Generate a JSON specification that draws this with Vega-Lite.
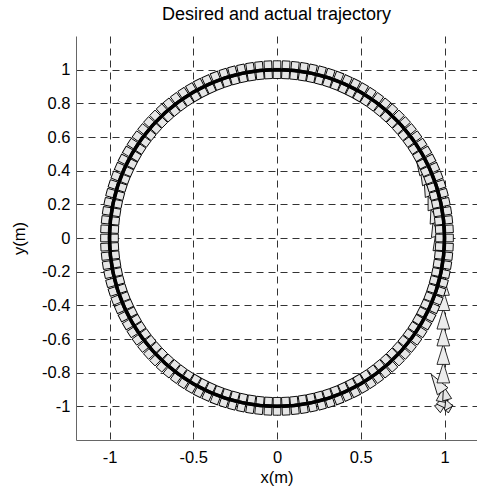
{
"$schema": "https://vega.github.io/schema/vega-lite/v6.json",
"width": 401, "height": 404,
"autosize": {"type": "none"},
"padding": {"left": 76, "top": 36, "right": 0, "bottom": 53},
"background": "white",
"title": {"text": "Desired and actual trajectory", "font": "Liberation Sans", "fontSize": 18, "fontWeight": "normal", "color": "black", "anchor": "middle", "frame": "group", "offset": 12},
"config": {
  "view": {"stroke": null},
  "axis": {"domainColor": "#666666", "domainWidth": 1, "ticks": false, "grid": true, "gridColor": "#333333", "gridDash": [7, 5], "gridWidth": 1, "gridOpacity": 1,
    "labelFont": "Liberation Sans", "labelFontSize": 16.5, "labelColor": "black", "titleFont": "Liberation Sans", "titleFontSize": 16.5, "titleFontWeight": "normal", "titleColor": "black"}
},
"datasets": {
"circle": [
{"o":0,"x":1,"y":0},{"o":6,"x":0.9945,"y":0.1045},{"o":12,"x":0.9781,"y":0.2079},{"o":18,"x":0.9511,"y":0.309},{"o":24,"x":0.9135,"y":0.4067},{"o":30,"x":0.866,"y":0.5},{"o":36,"x":0.809,"y":0.5878},{"o":42,"x":0.7431,"y":0.6691},{"o":48,"x":0.6691,"y":0.7431},{"o":54,"x":0.5878,"y":0.809},{"o":60,"x":0.5,"y":0.866},{"o":66,"x":0.4067,"y":0.9135},{"o":72,"x":0.309,"y":0.9511},{"o":78,"x":0.2079,"y":0.9781},{"o":84,"x":0.1045,"y":0.9945},
{"o":90,"x":0,"y":1},{"o":96,"x":-0.1045,"y":0.9945},{"o":102,"x":-0.2079,"y":0.9781},{"o":108,"x":-0.309,"y":0.9511},{"o":114,"x":-0.4067,"y":0.9135},{"o":120,"x":-0.5,"y":0.866},{"o":126,"x":-0.5878,"y":0.809},{"o":132,"x":-0.6691,"y":0.7431},{"o":138,"x":-0.7431,"y":0.6691},{"o":144,"x":-0.809,"y":0.5878},{"o":150,"x":-0.866,"y":0.5},{"o":156,"x":-0.9135,"y":0.4067},{"o":162,"x":-0.9511,"y":0.309},{"o":168,"x":-0.9781,"y":0.2079},{"o":174,"x":-0.9945,"y":0.1045},
{"o":180,"x":-1,"y":0},{"o":186,"x":-0.9945,"y":-0.1045},{"o":192,"x":-0.9781,"y":-0.2079},{"o":198,"x":-0.9511,"y":-0.309},{"o":204,"x":-0.9135,"y":-0.4067},{"o":210,"x":-0.866,"y":-0.5},{"o":216,"x":-0.809,"y":-0.5878},{"o":222,"x":-0.7431,"y":-0.6691},{"o":228,"x":-0.6691,"y":-0.7431},{"o":234,"x":-0.5878,"y":-0.809},{"o":240,"x":-0.5,"y":-0.866},{"o":246,"x":-0.4067,"y":-0.9135},{"o":252,"x":-0.309,"y":-0.9511},{"o":258,"x":-0.2079,"y":-0.9781},{"o":264,"x":-0.1045,"y":-0.9945},
{"o":270,"x":0,"y":-1},{"o":276,"x":0.1045,"y":-0.9945},{"o":282,"x":0.2079,"y":-0.9781},{"o":288,"x":0.309,"y":-0.9511},{"o":294,"x":0.4067,"y":-0.9135},{"o":300,"x":0.5,"y":-0.866},{"o":306,"x":0.5878,"y":-0.809},{"o":312,"x":0.6691,"y":-0.7431},{"o":318,"x":0.7431,"y":-0.6691},{"o":324,"x":0.809,"y":-0.5878},{"o":330,"x":0.866,"y":-0.5},{"o":336,"x":0.9135,"y":-0.4067},{"o":342,"x":0.9511,"y":-0.309},{"o":348,"x":0.9781,"y":-0.2079},{"o":354,"x":0.9945,"y":-0.1045},{"o":360,"x":1,"y":0}
],
"sq": [
{"x":1.03,"y":0,"a":0},{"x":1.029,"y":0.054,"a":3},{"x":1.024,"y":0.108,"a":6},{"x":1.017,"y":0.161,"a":9},{"x":1.007,"y":0.214,"a":12},{"x":0.995,"y":0.267,"a":15},{"x":0.98,"y":0.318,"a":18},{"x":0.962,"y":0.369,"a":21},{"x":0.941,"y":0.419,"a":24},{"x":0.918,"y":0.468,"a":27},{"x":0.892,"y":0.515,"a":30},{"x":0.864,"y":0.561,"a":33},{"x":0.833,"y":0.605,"a":36},{"x":0.8,"y":0.648,"a":39},{"x":0.765,"y":0.689,"a":42},{"x":0.728,"y":0.728,"a":45},{"x":0.689,"y":0.765,"a":48},{"x":0.648,"y":0.8,"a":51},{"x":0.605,"y":0.833,"a":54},{"x":0.561,"y":0.864,"a":57},{"x":0.515,"y":0.892,"a":60},{"x":0.468,"y":0.918,"a":63},{"x":0.419,"y":0.941,"a":66},{"x":0.369,"y":0.962,"a":69},{"x":0.318,"y":0.98,"a":72},{"x":0.267,"y":0.995,"a":75},{"x":0.214,"y":1.007,"a":78},{"x":0.161,"y":1.017,"a":81},{"x":0.108,"y":1.024,"a":84},{"x":0.054,"y":1.029,"a":87},
{"x":0,"y":1.03,"a":90},{"x":-0.054,"y":1.029,"a":93},{"x":-0.108,"y":1.024,"a":96},{"x":-0.161,"y":1.017,"a":99},{"x":-0.214,"y":1.007,"a":102},{"x":-0.267,"y":0.995,"a":105},{"x":-0.318,"y":0.98,"a":108},{"x":-0.369,"y":0.962,"a":111},{"x":-0.419,"y":0.941,"a":114},{"x":-0.468,"y":0.918,"a":117},{"x":-0.515,"y":0.892,"a":120},{"x":-0.561,"y":0.864,"a":123},{"x":-0.605,"y":0.833,"a":126},{"x":-0.648,"y":0.8,"a":129},{"x":-0.689,"y":0.765,"a":132},{"x":-0.728,"y":0.728,"a":135},{"x":-0.765,"y":0.689,"a":138},{"x":-0.8,"y":0.648,"a":141},{"x":-0.833,"y":0.605,"a":144},{"x":-0.864,"y":0.561,"a":147},{"x":-0.892,"y":0.515,"a":150},{"x":-0.918,"y":0.468,"a":153},{"x":-0.941,"y":0.419,"a":156},{"x":-0.962,"y":0.369,"a":159},{"x":-0.98,"y":0.318,"a":162},{"x":-0.995,"y":0.267,"a":165},{"x":-1.007,"y":0.214,"a":168},{"x":-1.017,"y":0.161,"a":171},{"x":-1.024,"y":0.108,"a":174},{"x":-1.029,"y":0.054,"a":177},
{"x":-1.03,"y":0,"a":180},{"x":-1.029,"y":-0.054,"a":183},{"x":-1.024,"y":-0.108,"a":186},{"x":-1.017,"y":-0.161,"a":189},{"x":-1.007,"y":-0.214,"a":192},{"x":-0.995,"y":-0.267,"a":195},{"x":-0.98,"y":-0.318,"a":198},{"x":-0.962,"y":-0.369,"a":201},{"x":-0.941,"y":-0.419,"a":204},{"x":-0.918,"y":-0.468,"a":207},{"x":-0.892,"y":-0.515,"a":210},{"x":-0.864,"y":-0.561,"a":213},{"x":-0.833,"y":-0.605,"a":216},{"x":-0.8,"y":-0.648,"a":219},{"x":-0.765,"y":-0.689,"a":222},{"x":-0.728,"y":-0.728,"a":225},{"x":-0.689,"y":-0.765,"a":228},{"x":-0.648,"y":-0.8,"a":231},{"x":-0.605,"y":-0.833,"a":234},{"x":-0.561,"y":-0.864,"a":237},{"x":-0.515,"y":-0.892,"a":240},{"x":-0.468,"y":-0.918,"a":243},{"x":-0.419,"y":-0.941,"a":246},{"x":-0.369,"y":-0.962,"a":249},{"x":-0.318,"y":-0.98,"a":252},{"x":-0.267,"y":-0.995,"a":255},{"x":-0.214,"y":-1.007,"a":258},{"x":-0.161,"y":-1.017,"a":261},{"x":-0.108,"y":-1.024,"a":264},{"x":-0.054,"y":-1.029,"a":267},
{"x":0,"y":-1.03,"a":270},{"x":0.054,"y":-1.029,"a":273},{"x":0.108,"y":-1.024,"a":276},{"x":0.161,"y":-1.017,"a":279},{"x":0.214,"y":-1.007,"a":282},{"x":0.267,"y":-0.995,"a":285},{"x":0.318,"y":-0.98,"a":288},{"x":0.369,"y":-0.962,"a":291},{"x":0.419,"y":-0.941,"a":294},{"x":0.468,"y":-0.918,"a":297},{"x":0.515,"y":-0.892,"a":300},{"x":0.561,"y":-0.864,"a":303},{"x":0.605,"y":-0.833,"a":306},{"x":0.648,"y":-0.8,"a":309},{"x":0.689,"y":-0.765,"a":312},{"x":0.728,"y":-0.728,"a":315},{"x":0.765,"y":-0.689,"a":318},{"x":0.8,"y":-0.648,"a":321},{"x":0.833,"y":-0.605,"a":324},{"x":0.864,"y":-0.561,"a":327},{"x":0.892,"y":-0.515,"a":330},{"x":0.918,"y":-0.468,"a":333},{"x":0.941,"y":-0.419,"a":336},{"x":0.962,"y":-0.369,"a":339},{"x":0.98,"y":-0.318,"a":342},{"x":0.995,"y":-0.267,"a":345},{"x":1.007,"y":-0.214,"a":348},{"x":1.017,"y":-0.161,"a":351},{"x":1.024,"y":-0.108,"a":354},{"x":1.029,"y":-0.054,"a":357},
{"x":0.97,"y":0,"a":0},{"x":0.969,"y":0.051,"a":3},{"x":0.965,"y":0.101,"a":6},{"x":0.958,"y":0.152,"a":9},{"x":0.949,"y":0.202,"a":12},{"x":0.937,"y":0.251,"a":15},{"x":0.923,"y":0.3,"a":18},{"x":0.906,"y":0.348,"a":21},{"x":0.886,"y":0.394,"a":24},{"x":0.864,"y":0.44,"a":27},{"x":0.84,"y":0.485,"a":30},{"x":0.814,"y":0.528,"a":33},{"x":0.785,"y":0.57,"a":36},{"x":0.754,"y":0.61,"a":39},{"x":0.721,"y":0.649,"a":42},{"x":0.686,"y":0.686,"a":45},{"x":0.649,"y":0.721,"a":48},{"x":0.61,"y":0.754,"a":51},{"x":0.57,"y":0.785,"a":54},{"x":0.528,"y":0.814,"a":57},{"x":0.485,"y":0.84,"a":60},{"x":0.44,"y":0.864,"a":63},{"x":0.394,"y":0.886,"a":66},{"x":0.348,"y":0.906,"a":69},{"x":0.3,"y":0.923,"a":72},{"x":0.251,"y":0.937,"a":75},{"x":0.202,"y":0.949,"a":78},{"x":0.152,"y":0.958,"a":81},{"x":0.101,"y":0.965,"a":84},{"x":0.051,"y":0.969,"a":87},
{"x":0,"y":0.97,"a":90},{"x":-0.051,"y":0.969,"a":93},{"x":-0.101,"y":0.965,"a":96},{"x":-0.152,"y":0.958,"a":99},{"x":-0.202,"y":0.949,"a":102},{"x":-0.251,"y":0.937,"a":105},{"x":-0.3,"y":0.923,"a":108},{"x":-0.348,"y":0.906,"a":111},{"x":-0.394,"y":0.886,"a":114},{"x":-0.44,"y":0.864,"a":117},{"x":-0.485,"y":0.84,"a":120},{"x":-0.528,"y":0.814,"a":123},{"x":-0.57,"y":0.785,"a":126},{"x":-0.61,"y":0.754,"a":129},{"x":-0.649,"y":0.721,"a":132},{"x":-0.686,"y":0.686,"a":135},{"x":-0.721,"y":0.649,"a":138},{"x":-0.754,"y":0.61,"a":141},{"x":-0.785,"y":0.57,"a":144},{"x":-0.814,"y":0.528,"a":147},{"x":-0.84,"y":0.485,"a":150},{"x":-0.864,"y":0.44,"a":153},{"x":-0.886,"y":0.394,"a":156},{"x":-0.906,"y":0.348,"a":159},{"x":-0.923,"y":0.3,"a":162},{"x":-0.937,"y":0.251,"a":165},{"x":-0.949,"y":0.202,"a":168},{"x":-0.958,"y":0.152,"a":171},{"x":-0.965,"y":0.101,"a":174},{"x":-0.969,"y":0.051,"a":177},
{"x":-0.97,"y":0,"a":180},{"x":-0.969,"y":-0.051,"a":183},{"x":-0.965,"y":-0.101,"a":186},{"x":-0.958,"y":-0.152,"a":189},{"x":-0.949,"y":-0.202,"a":192},{"x":-0.937,"y":-0.251,"a":195},{"x":-0.923,"y":-0.3,"a":198},{"x":-0.906,"y":-0.348,"a":201},{"x":-0.886,"y":-0.394,"a":204},{"x":-0.864,"y":-0.44,"a":207},{"x":-0.84,"y":-0.485,"a":210},{"x":-0.814,"y":-0.528,"a":213},{"x":-0.785,"y":-0.57,"a":216},{"x":-0.754,"y":-0.61,"a":219},{"x":-0.721,"y":-0.649,"a":222},{"x":-0.686,"y":-0.686,"a":225},{"x":-0.649,"y":-0.721,"a":228},{"x":-0.61,"y":-0.754,"a":231},{"x":-0.57,"y":-0.785,"a":234},{"x":-0.528,"y":-0.814,"a":237},{"x":-0.485,"y":-0.84,"a":240},{"x":-0.44,"y":-0.864,"a":243},{"x":-0.394,"y":-0.886,"a":246},{"x":-0.348,"y":-0.906,"a":249},{"x":-0.3,"y":-0.923,"a":252},{"x":-0.251,"y":-0.937,"a":255},{"x":-0.202,"y":-0.949,"a":258},{"x":-0.152,"y":-0.958,"a":261},{"x":-0.101,"y":-0.965,"a":264},{"x":-0.051,"y":-0.969,"a":267},
{"x":0,"y":-0.97,"a":270},{"x":0.051,"y":-0.969,"a":273},{"x":0.101,"y":-0.965,"a":276},{"x":0.152,"y":-0.958,"a":279},{"x":0.202,"y":-0.949,"a":282},{"x":0.251,"y":-0.937,"a":285},{"x":0.3,"y":-0.923,"a":288},{"x":0.348,"y":-0.906,"a":291},{"x":0.394,"y":-0.886,"a":294},{"x":0.44,"y":-0.864,"a":297},{"x":0.485,"y":-0.84,"a":300},{"x":0.528,"y":-0.814,"a":303},{"x":0.57,"y":-0.785,"a":306},{"x":0.61,"y":-0.754,"a":309},{"x":0.649,"y":-0.721,"a":312},{"x":0.686,"y":-0.686,"a":315},{"x":0.721,"y":-0.649,"a":318},{"x":0.754,"y":-0.61,"a":321},{"x":0.785,"y":-0.57,"a":324},{"x":0.814,"y":-0.528,"a":327},{"x":0.84,"y":-0.485,"a":330},{"x":0.864,"y":-0.44,"a":333},{"x":0.886,"y":-0.394,"a":336},{"x":0.906,"y":-0.348,"a":339},{"x":0.923,"y":-0.3,"a":342},{"x":0.937,"y":-0.251,"a":345},{"x":0.949,"y":-0.202,"a":348},{"x":0.958,"y":-0.152,"a":351},{"x":0.965,"y":-0.101,"a":354},{"x":0.969,"y":-0.051,"a":357}
],
"triA": [
{"x":0.955,"y":-0.86,"h":124},{"x":0.993,"y":-0.8,"h":90},{"x":0.993,"y":-0.69,"h":90},{"x":0.993,"y":-0.58,"h":90},{"x":0.993,"y":-0.48,"h":90},{"x":0.993,"y":-0.37,"h":90},{"x":0.99,"y":-0.28,"h":91}
],
"triB": [
{"x":1.0,"y":-0.995,"h":150},{"x":0.99,"y":-0.99,"h":40},{"x":1.005,"y":-0.975,"h":120},{"x":0.995,"y":-0.96,"h":65},{"x":0.985,"y":-0.93,"h":80},{"x":1.005,"y":-0.92,"h":105},
{"x":0.975,"y":-0.19,"h":94},{"x":0.965,"y":-0.11,"h":96},{"x":0.952,"y":-0.03,"h":99},{"x":0.94,"y":0.05,"h":102},{"x":0.93,"y":0.13,"h":105},{"x":0.915,"y":0.21,"h":108},{"x":0.895,"y":0.29,"h":112},{"x":0.875,"y":0.36,"h":116},{"x":0.855,"y":0.42,"h":120}
]
},
"encoding": {
  "x": {"field": "x", "type": "quantitative", "scale": {"domain": [-1.2, 1.194], "nice": false, "zero": false},
    "axis": {"title": "x(m)", "values": [-1, -0.5, 0, 0.5, 1], "labelExpr": "'' + datum.value", "labelPadding": 9, "titlePadding": 4}},
  "y": {"field": "y", "type": "quantitative", "scale": {"domain": [-1.2, 1.2], "nice": false, "zero": false},
    "axis": {"title": "y(m)", "values": [-1, -0.8, -0.6, -0.4, -0.2, 0, 0.2, 0.4, 0.6, 0.8, 1], "labelExpr": "'' + datum.value", "labelPadding": 6, "titlePadding": 14}}
},
"layer": [
  {"data": {"name": "triB"}, "mark": {"type": "point", "shape": "M0,-1L0.65,1L-0.65,1Z", "filled": true, "fill": "#e6e6e6", "stroke": "black", "strokeWidth": 0.8, "opacity": 1, "size": 200},
   "encoding": {"angle": {"field": "h", "type": "quantitative", "scale": {"domain": [0, 90], "range": [90, 0]}}}},
  {"data": {"name": "triA"}, "mark": {"type": "point", "shape": "M0,-1L0.62,1L-0.62,1Z", "filled": true, "fill": "#ececec", "stroke": "black", "strokeWidth": 0.8, "opacity": 1, "size": 420},
   "encoding": {"angle": {"field": "h", "type": "quantitative", "scale": {"domain": [0, 90], "range": [90, 0]}}}},
  {"data": {"name": "sq"}, "mark": {"type": "point", "shape": "square", "filled": true, "fill": "#e6e6e6", "stroke": "black", "strokeWidth": 0.9, "opacity": 1, "size": 58},
   "encoding": {"angle": {"field": "a", "type": "quantitative", "scale": {"domain": [0, 90], "range": [360, 270]}}}},
  {"data": {"name": "circle"}, "mark": {"type": "line", "color": "black", "strokeWidth": 3.5},
   "encoding": {"order": {"field": "o", "type": "quantitative"}}}
]
}
